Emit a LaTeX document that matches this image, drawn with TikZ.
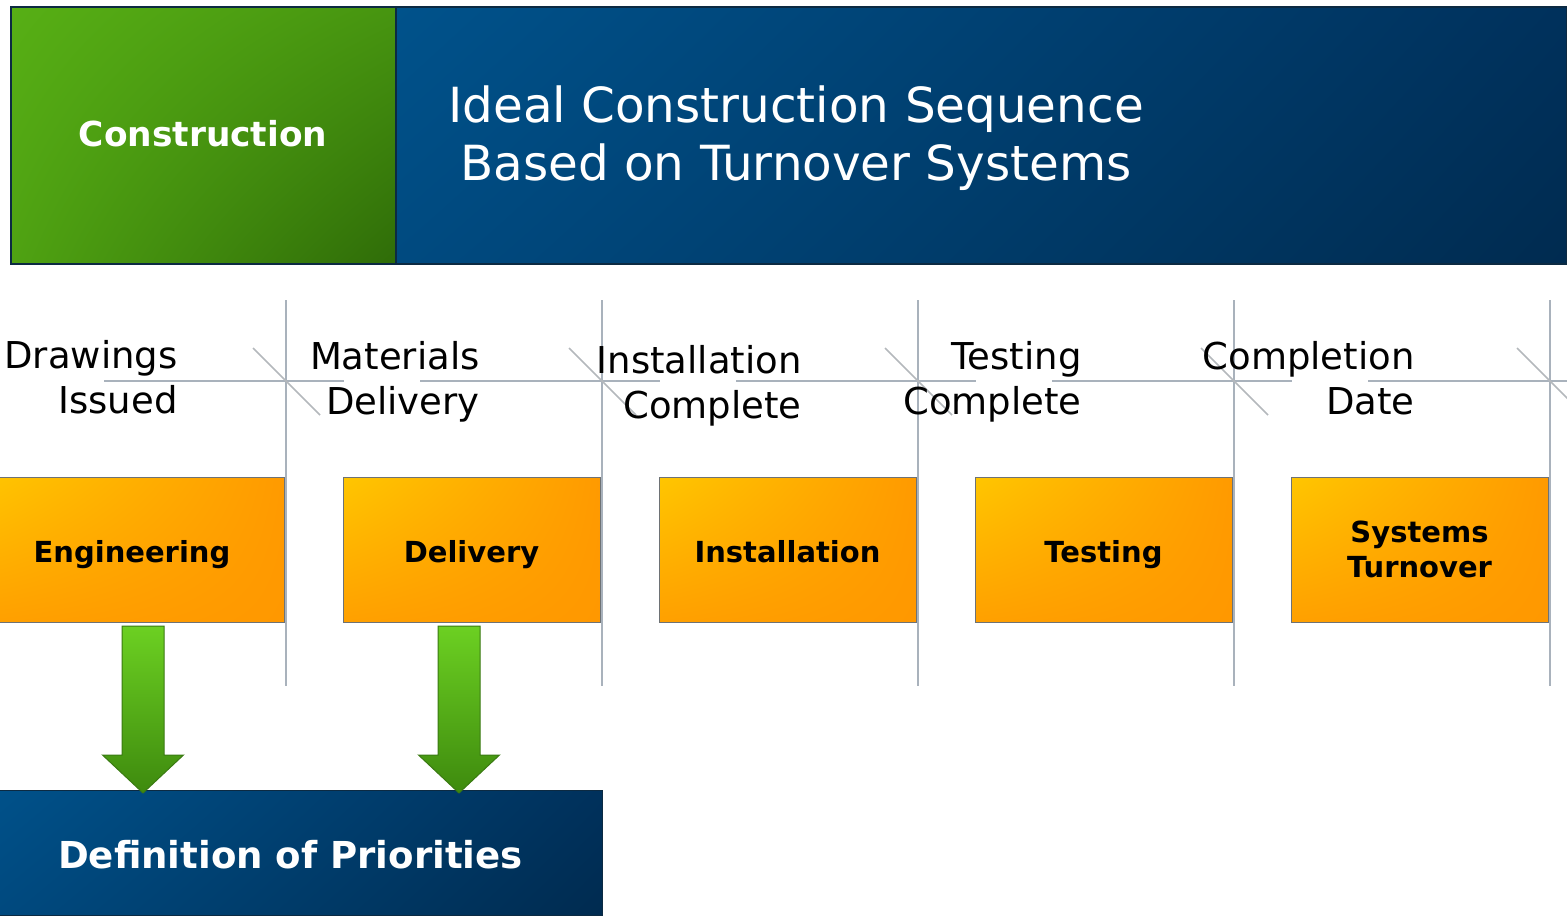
\documentclass[tikz,border=0pt]{standalone}
\usepackage{fontspec}
\usetikzlibrary{shadings}
\setmainfont{DejaVu Sans}
\definecolor{grnA}{HTML}{57AF15}
\definecolor{grnB}{HTML}{479510}
\definecolor{grnC}{HTML}{4FA212}
\definecolor{grnD}{HTML}{2F6C08}
\definecolor{bluA}{HTML}{00528B}
\definecolor{bluB}{HTML}{00315C}
\definecolor{bluC}{HTML}{004A80}
\definecolor{bluD}{HTML}{002B50}
\definecolor{orgA}{HTML}{FFC600}
\definecolor{orgB}{HTML}{FF9A00}
\definecolor{orgC}{HTML}{FFA000}
\definecolor{orgD}{HTML}{FF9800}
\definecolor{navyline}{HTML}{0C2A42}
\definecolor{grayline}{HTML}{A9B2BC}
\definecolor{diagline}{HTML}{B4B8BC}
\definecolor{boxborder}{HTML}{6E7275}
\definecolor{arrTop}{HTML}{6CD022}
\definecolor{arrMid}{HTML}{55B316}
\definecolor{arrBot}{HTML}{3E8A0E}
\definecolor{arrEdge}{HTML}{3A7A12}
\begin{document}
\begin{tikzpicture}[x=0.5pt,y=-0.5pt,
  obox/.style={draw=boxborder, line width=0.5pt, shade,
    upper left=orgA, upper right=orgB, lower left=orgC, lower right=orgD,
    minimum width=128.5pt, minimum height=72.5pt, inner sep=0pt,
    font=\bfseries\fontsize{14.5}{17.5}\selectfont, align=center, text=black},
  oneline/.style={text height=12.5pt, text depth=0pt},
  lbl/.style={inner sep=0pt, align=right, anchor=east,
    font=\fontsize{18.5}{22.5}\selectfont, text=black},
  vline/.style={draw=grayline, line width=1pt},
  hline/.style={draw=grayline, line width=1pt},
  dline/.style={draw=diagline, line width=0.75pt},
  garrow/.style={draw=arrEdge, line width=0.5pt, top color=arrTop, middle color=arrMid, bottom color=arrBot}
]
\useasboundingbox (0,0) rectangle (1567,915);

% header
\shade[upper left=grnA, upper right=grnB, lower left=grnC, lower right=grnD] (11,7) rectangle (396,264);
\shade[upper left=bluA, upper right=bluB, lower left=bluC, lower right=bluD] (396,7) rectangle (1567,264);
\draw[navyline, line width=1pt] (11,7) rectangle (1567,264);
\draw[navyline, line width=0.6pt] (396,7) -- (396,264);
\node[text=white, font=\bfseries\fontsize{17.2}{20}\selectfont] (constr) at (203,134) {Construction};
\node[text=white, align=center, font=\fontsize{24.2}{29}\selectfont] (title) at (796,138) {Ideal Construction Sequence\\Based on Turnover Systems};

% grid lines
\foreach \v in {286,602,918,1234,1550}{
  \draw[vline] (\v,300) -- (\v,686);
  \draw[hline] (\v-182,381) -- (\v+58,381);
  \draw[dline] (\v-33,348) -- (\v+34,415);
}

% milestone labels
\node[lbl] (m1) at (178,377) {Drawings\\Issued};
\node[lbl] (m2) at (480,382) {Materials\\Delivery};
\node[lbl] (m3) at (802,386) {Installation\\Complete};
\node[lbl] (m4) at (1082,382) {Testing\\Complete};
\node[lbl] (m5) at (1415,378) {Completion\\Date};

% activity boxes
\node[obox, oneline, minimum width=152pt] (eng) at (132,549.5) {Engineering};
\node[obox, oneline] (del) at (471.5,549.5) {Delivery};
\node[obox, oneline] (ins) at (787.5,549.5) {Installation};
\node[obox, oneline] (tst) at (1103.5,549.5) {Testing};
\node[obox] (sys) at (1419.5,549.5) {Systems\\Turnover};

% bottom box
\node[draw=navyline, line width=0.5pt, shade,
  upper left=bluA, upper right=bluB, lower left=bluC, lower right=bluD,
  minimum width=311.5pt, minimum height=62.5pt, inner sep=0pt,
  text height=16pt, text depth=0pt,
  text=white, font=\bfseries\fontsize{18.55}{22}\selectfont] (defn) at (290.5,852.5) {Definition of Priorities};

% green arrows
\foreach \cx in {143,459}{
  \begin{scope}[shift={(\cx,0)}]
    \path[garrow] (-21,626) -- (21,626) -- (21,755) -- (40.5,755) -- (0,793) -- (-40.5,755) -- (-21,755) -- cycle;
  \end{scope}
}
\end{tikzpicture}
\end{document}
